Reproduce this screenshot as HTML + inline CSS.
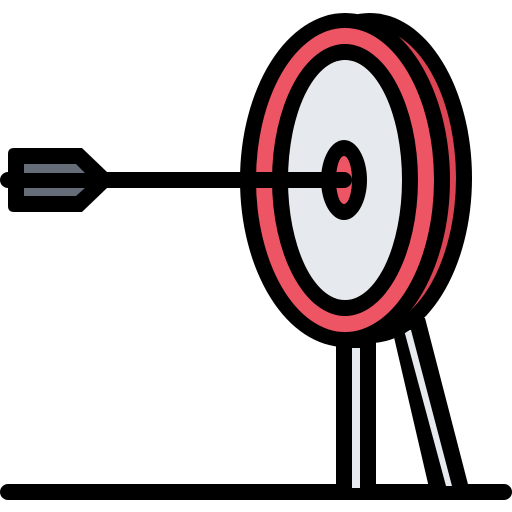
<!DOCTYPE html>
<html><head><meta charset="utf-8"><style>html,body{margin:0;padding:0;background:#fff}svg{display:block}</style></head>
<body>
<svg width="512" height="512" viewBox="0 0 512 512" xmlns="http://www.w3.org/2000/svg">
  <line x1="8" y1="492" x2="504" y2="492" stroke="#000" stroke-width="16" stroke-linecap="round"/>
  <g>
    <polygon points="390,320 425,318 470,492 430,492" fill="#000"/>
    <polygon points="404,330 411,330 452,486 446,486" fill="#e6e9ed"/>
  </g>
  <g>
    <rect x="336" y="330" width="40" height="162" fill="#000"/>
    <rect x="352" y="348" width="8" height="140" fill="#e6e9ed"/>
  </g>
  <g>
    <ellipse cx="370" cy="178" rx="102" ry="165" fill="#000"/>
    <ellipse cx="370" cy="178" rx="86" ry="150" fill="#da4453"/>
  </g>
  <g>
    <ellipse cx="345" cy="180" rx="105" ry="167" fill="#000"/>
    <ellipse cx="345" cy="180" rx="89" ry="152" fill="#ed5565"/>
    <ellipse cx="345" cy="180" rx="73" ry="136" fill="#000"/>
    <ellipse cx="345" cy="180" rx="57" ry="120" fill="#e6e9ed"/>
  </g>
  <g>
    <ellipse cx="344" cy="180" rx="23" ry="40" fill="#000"/>
    <ellipse cx="344" cy="180" rx="8" ry="24" fill="#ed5565"/>
  </g>
  <g>
    <line x1="8" y1="180" x2="344" y2="180" stroke="#000" stroke-width="16" stroke-linecap="round"/>
    <path d="M14,148 H82 L107,172 V188 L82,212 H14 Q8,212 8,206 V154 Q8,148 14,148 Z" fill="#000"/>
    <polygon points="24,164 76,164 85,173 24,173" fill="#656d78"/>
    <polygon points="24,188 85,188 76,196 24,196" fill="#656d78"/>
  </g>
</svg>
</body></html>
